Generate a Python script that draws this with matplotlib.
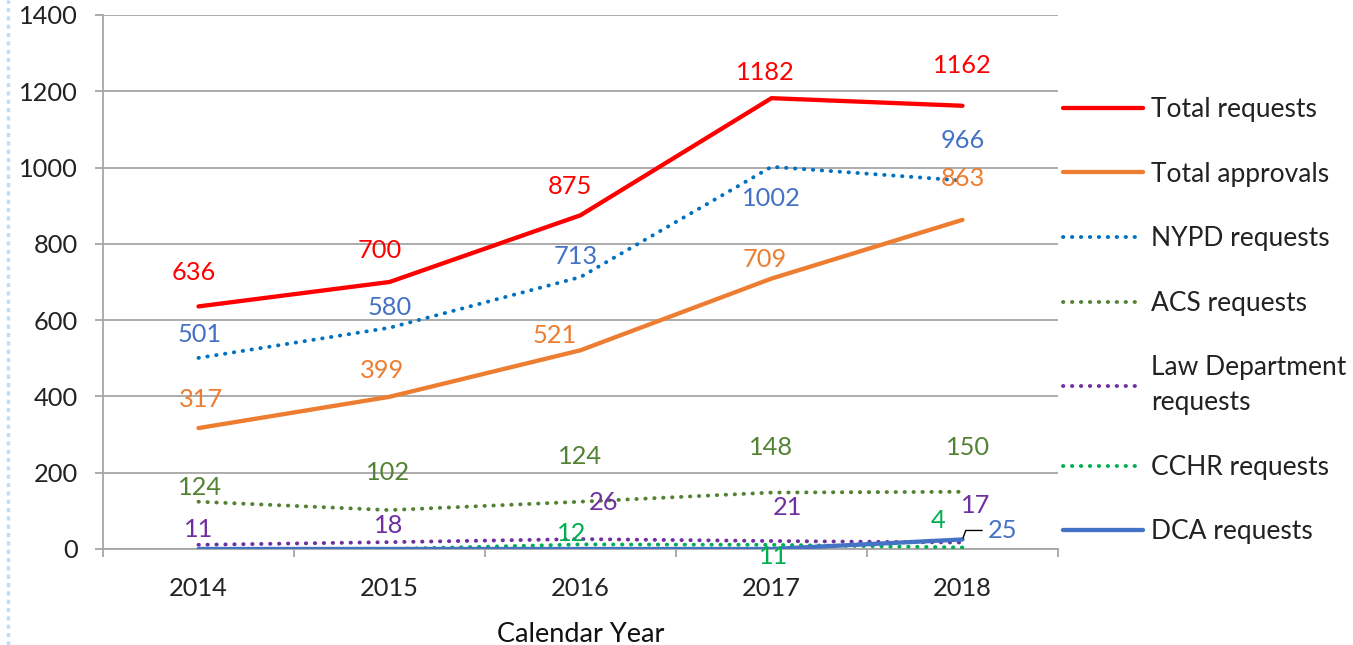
import numpy as np
import matplotlib
matplotlib.use("Agg")
import matplotlib.pyplot as plt
from matplotlib.lines import Line2D

plt.rcParams['font.family'] = ['Lato', 'DejaVu Sans']

years = ['2014', '2015', '2016', '2017', '2018']

total_requests  = [636, 700, 875, 1182, 1162]
total_approvals = [317, 399, 521, 709, 863]
nypd_requests   = [501, 580, 713, 1002, 966]
acs_requests    = [124, 102, 124, 148, 150]
law_requests    = [11, 18, 26, 21, 17]
cchr_requests   = [np.nan, 0, 12, 11, 4]
dca_requests    = [0, 0, 0, 0, 25]

# label offsets in pixels (dx, dy up), None = no label
red_off  = [(-5, 34), (-10, 32), (-11, 29), (-6, 26), (0, 40)]
org_off  = [(2, 29), (-8, 26), (-26, 15), (-7, 19), (0, 41)]
nypd_off = [(1, 23), (0, 20), (-5, 21), (0, -32), (0, 40)]
acs_off  = [(2, 14), (-1, 38), (0, 45), (0, 45), (6, 44)]
law_off  = [(0, 15), (-1, 17), (23, 37), (16, 33), (13, 37)]
cchr_off = [None, None, (-9, 11), (2, -12), (-24, 27)]

fig = plt.figure(figsize=(13.53, 6.45), dpi=100)
ax = fig.add_axes([103/1353, 1-549/645, (1058-103)/1353, 534/645])

x = np.arange(len(years))
dot = (0, (0.1, 2.2))
fs = 18.3

series = [
    (total_requests,  'Total requests',  '#ff0000', '-', 3.1, '#ff0000', red_off),
    (total_approvals, 'Total approvals', '#ed7d31', '-', 3.1, '#ed7d31', org_off),
    (nypd_requests,   'NYPD requests',   '#0070c0', dot, 2.8, '#4472c4', nypd_off),
    (acs_requests,    'ACS requests',    '#548235', dot, 2.8, '#548235', acs_off),
    (law_requests,    'Law Department\nrequests', '#7030a0', dot, 2.8, '#7030a0', law_off),
    (cchr_requests,   'CCHR requests',   '#00b050', dot, 2.8, '#00b050', cchr_off),
]

for vals, name, col, ls, lw, lcol, offs in series:
    ax.plot(x, vals, color=col, linestyle=ls, lw=lw, label=name,
            dash_capstyle='round', solid_capstyle='round', zorder=3)
    for i, v in enumerate(vals):
        if offs[i] is None:
            continue
        ax.annotate(str(int(v)), (x[i], v), xytext=offs[i], textcoords='offset pixels',
                    ha='center', va='center', color=lcol, fontsize=fs, zorder=5)

ax.plot(x, dca_requests, color='#4472c4', lw=3.1, label='DCA requests',
        solid_capstyle='round', zorder=4)
ax.annotate(str(dca_requests[-1]), (x[-1], dca_requests[-1]), xytext=(40, 9),
            textcoords='offset pixels', ha='center', va='center', color='#4472c4',
            fontsize=fs, zorder=5,
            arrowprops=dict(arrowstyle='-', color='black', lw=1.0, shrinkA=2, shrinkB=1,
                            relpos=(0, 0.5),
                            connectionstyle='angle,angleA=0,angleB=70,rad=0'))

ax.set_xlim(-0.5, 4.5)
ax.set_ylim(0, 1400)
ax.set_yticks(np.arange(0, 1401, 200))
ax.set_xticks(x)
ax.set_xticklabels(years)
ax.set_xticks(np.arange(-0.5, 4.6, 1), minor=True)

grid_col = '#a6a6a6'
ax.grid(axis='y', color=grid_col, lw=1.3, zorder=1)
ax.set_axisbelow(True)
for s in ['top', 'right']:
    ax.spines[s].set_visible(False)
ax.spines['left'].set_color(grid_col)
ax.spines['left'].set_linewidth(1.3)
ax.spines['bottom'].set_color(grid_col)
ax.spines['bottom'].set_linewidth(1.3)

ax.tick_params(axis='y', length=6, width=1.3, color=grid_col, pad=12,
               labelsize=fs, labelcolor='#222222')
ax.tick_params(axis='x', which='major', length=0, pad=20,
               labelsize=fs, labelcolor='#222222')
ax.tick_params(axis='x', which='minor', length=6, width=1.3, color=grid_col)

ax.set_xlabel('Calendar Year', fontsize=19.5, color='#111111', labelpad=16)

leg = ax.legend(loc='upper left', bbox_to_anchor=(1063/1353, 1-97/645),
                bbox_transform=fig.transFigure, frameon=False, fontsize=19,
                handlelength=3.05, handletextpad=0.3, labelspacing=1.5,
                borderpad=0, borderaxespad=0)
for t in leg.get_texts():
    t.set_color('#222222')
    t.set_linespacing(1.5)

# thin dotted border strip on the left edge
fig.add_artist(Line2D([8/1353, 8/1353], [0, 1], transform=fig.transFigure,
                      color='#c2dcf2', lw=2.5, linestyle=(0, (1.2, 1.2))))

fig.savefig('out.png', dpi=100)
